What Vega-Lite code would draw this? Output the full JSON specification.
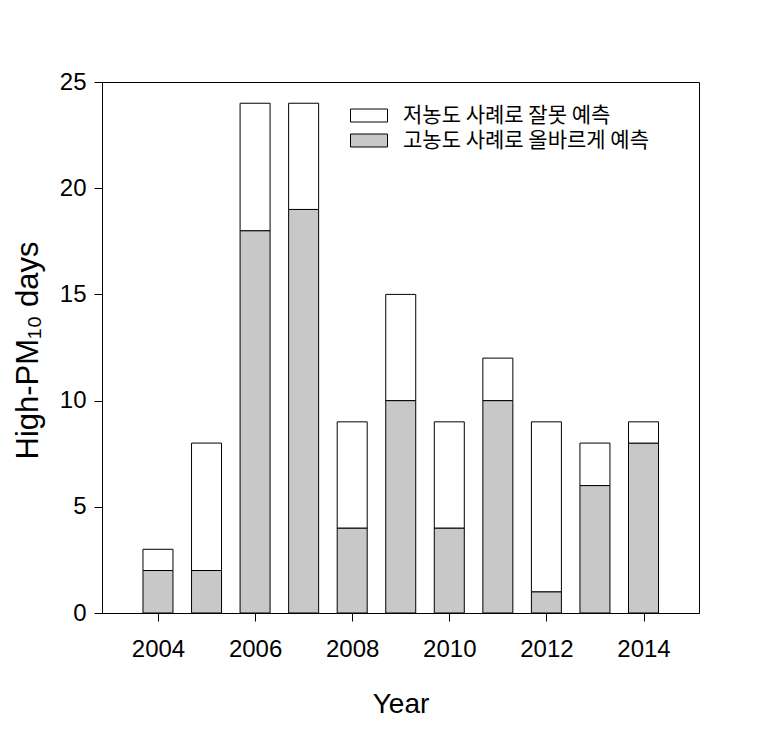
{
  "$schema": "https://vega.github.io/schema/vega-lite/v6.json",
  "width": 597,
  "height": 531,
  "autosize": "none",
  "padding": {"left": 102, "top": 82, "right": 74, "bottom": 116},
  "background": "white",
  "config": {
    "view": {"stroke": "black", "strokeWidth": 1},
    "font": "Liberation Sans",
    "axis": {
      "grid": false,
      "domainColor": "black",
      "tickColor": "black",
      "labelColor": "black",
      "titleColor": "black",
      "labelFont": "Liberation Sans",
      "titleFont": "Liberation Sans",
      "titleFontWeight": "normal",
      "labelFontSize": 24,
      "titleFontSize": 28,
      "tickSize": 8,
      "domainWidth": 1,
      "tickWidth": 1
    }
  },
  "data": {
    "values": [
      {"year": 2004, "category": "고농도 사례로 올바르게 예측", "days": 2},
      {"year": 2004, "category": "저농도 사례로 잘못 예측", "days": 1},
      {"year": 2005, "category": "고농도 사례로 올바르게 예측", "days": 2},
      {"year": 2005, "category": "저농도 사례로 잘못 예측", "days": 6},
      {"year": 2006, "category": "고농도 사례로 올바르게 예측", "days": 18},
      {"year": 2006, "category": "저농도 사례로 잘못 예측", "days": 6},
      {"year": 2007, "category": "고농도 사례로 올바르게 예측", "days": 19},
      {"year": 2007, "category": "저농도 사례로 잘못 예측", "days": 5},
      {"year": 2008, "category": "고농도 사례로 올바르게 예측", "days": 4},
      {"year": 2008, "category": "저농도 사례로 잘못 예측", "days": 5},
      {"year": 2009, "category": "고농도 사례로 올바르게 예측", "days": 10},
      {"year": 2009, "category": "저농도 사례로 잘못 예측", "days": 5},
      {"year": 2010, "category": "고농도 사례로 올바르게 예측", "days": 4},
      {"year": 2010, "category": "저농도 사례로 잘못 예측", "days": 5},
      {"year": 2011, "category": "고농도 사례로 올바르게 예측", "days": 10},
      {"year": 2011, "category": "저농도 사례로 잘못 예측", "days": 2},
      {"year": 2012, "category": "고농도 사례로 올바르게 예측", "days": 1},
      {"year": 2012, "category": "저농도 사례로 잘못 예측", "days": 8},
      {"year": 2013, "category": "고농도 사례로 올바르게 예측", "days": 6},
      {"year": 2013, "category": "저농도 사례로 잘못 예측", "days": 2},
      {"year": 2014, "category": "고농도 사례로 올바르게 예측", "days": 8},
      {"year": 2014, "category": "저농도 사례로 잘못 예측", "days": 1}
    ]
  },
  "mark": {"type": "bar", "size": 30, "stroke": "black", "strokeWidth": 1},
  "encoding": {
    "x": {
      "field": "year",
      "type": "quantitative",
      "scale": {"domain": [2002.95, 2015.04], "nice": false, "zero": false},
      "axis": {
        "values": [2004, 2006, 2008, 2010, 2012, 2014],
        "format": "d",
        "title": "Year",
        "labelPadding": 16,
        "titleY": 91,
        "titleBaseline": "middle"
      }
    },
    "y": {
      "field": "days",
      "type": "quantitative",
      "stack": "zero",
      "scale": {"domain": [0, 25], "nice": false},
      "axis": {
        "values": [0, 5, 10, 15, 20, 25],
        "title": "High-PM₁₀ days",
        "titleFontSize": 31,
        "titleX": -74,
        "titleY": 268,
        "titleBaseline": "middle",
        "labelPadding": 8
      }
    },
    "color": {
      "field": "category",
      "type": "nominal",
      "scale": {
        "domain": ["저농도 사례로 잘못 예측", "고농도 사례로 올바르게 예측"],
        "range": ["white", "#c8c8c8"]
      },
      "legend": {
        "orient": "none",
        "legendX": 256.5,
        "legendY": 23,
        "title": null,
        "symbolType": "M-1.85,-0.65H1.85V0.65H-1.85Z",
        "symbolSize": 400,
        "symbolStrokeColor": "black",
        "symbolStrokeWidth": 1,
        "symbolOpacity": 1,
        "labelFont": "Noto Sans CJK KR",
        "labelFontSize": 21,
        "labelColor": "black",
        "labelOffset": 23.5,
        "labelLimit": 400,
        "rowPadding": 3,
        "padding": 0
      }
    },
    "order": {"field": "category", "sort": "ascending"}
  }
}
